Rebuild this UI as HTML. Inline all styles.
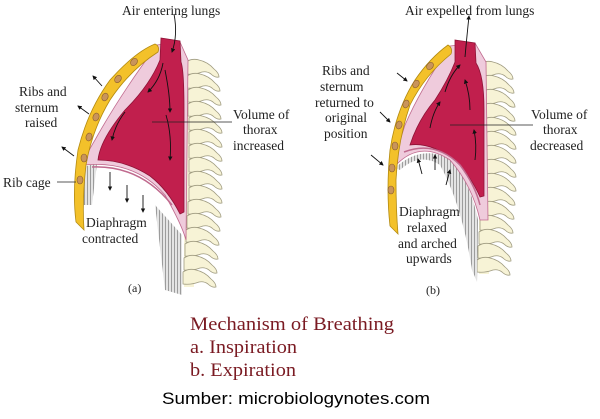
<!DOCTYPE html>
<html><head><meta charset="utf-8"><style>
body{margin:0;background:#fff;width:600px;height:414px;overflow:hidden}
svg text{font-family:"Liberation Serif",serif;fill:#222}
</style></head><body>
<svg width="600" height="414" viewBox="0 0 600 414" xmlns="http://www.w3.org/2000/svg">
<defs>
<marker id="ah" viewBox="0 0 10 10" refX="8" refY="5" markerWidth="5" markerHeight="5" orient="auto"><path d="M0 0L10 5L0 10z" fill="#111"/></marker>
<pattern id="gr" width="3" height="3" patternUnits="userSpaceOnUse"><rect width="3" height="3" fill="#e4e4e4"/><rect width="0.8" height="3" fill="#8a8a8a"/></pattern>
<path id="vt" d="M0 2 Q6 -2 13 0 Q22 2 28 9 Q33 13 33 17 Q29 18 25 14 Q21 11 16 12 Q8 15 0 14 Z" fill="#f7f3d6" stroke="#9f9b80" stroke-width="0.8"/>
</defs>

<!-- ===== (a) ===== -->
<rect x="184" y="62" width="10" height="225" fill="#f7f3d6"/>
<use href="#vt" x="186" y="60"/>
<use href="#vt" x="187" y="74"/>
<use href="#vt" x="188" y="88"/>
<use href="#vt" x="188" y="102"/>
<use href="#vt" x="189" y="116"/>
<use href="#vt" x="189" y="130"/>
<use href="#vt" x="189" y="144"/>
<use href="#vt" x="189" y="158"/>
<use href="#vt" x="189" y="172"/>
<use href="#vt" x="189" y="186"/>
<use href="#vt" x="188" y="200"/>
<use href="#vt" x="187" y="214"/>
<use href="#vt" x="186" y="228"/>
<use href="#vt" x="185" y="242"/>
<use href="#vt" x="184" y="256"/>
<use href="#vt" x="183" y="270"/>
<path d="M80 168 L97 163 L92 205 L80 205 Z" fill="url(#gr)"/>
<path d="M155 205 L182 235 L182 295 L165 290 Z" fill="url(#gr)"/>
<path d="M157 45 Q120 95 95 140 Q84 158 84 165 Q135 160 165 195 Q182 225 186 240 L188 60 L180 42 Z" fill="#efcbdc" stroke="#c06a8e" stroke-width="0.8"/>
<path d="M161 38 L180 41 L181 62 Q184 70 184 110 L184 212 L180 214 Q168 190 150 176 Q125 160 98 160 Q100 140 125 110 Q150 85 160 60 Z" fill="#c11f4d" stroke="#8e1236" stroke-width="0.8"/>
<path d="M92 167 Q140 165 172 205" fill="none" stroke="#c06a8e" stroke-width="1.5"/>
<path d="M155 44 Q160 46 158 52 Q130 70 110 100 Q92 130 86 165 Q82 200 84 230 L76 222 Q72 190 78 150 Q88 110 110 80 Q135 52 155 44 Z" fill="#f3c12a" stroke="#b38a10" stroke-width="0.8"/>
<g fill="#c9945a" stroke="#8a5d2a" stroke-width="0.6">
<ellipse cx="134" cy="62" rx="3" ry="4" transform="rotate(40 134 62)"/>
<ellipse cx="118" cy="79" rx="3" ry="4" transform="rotate(35 118 79)"/>
<ellipse cx="105" cy="97" rx="3" ry="4" transform="rotate(25 105 97)"/>
<ellipse cx="96" cy="117" rx="3" ry="4" transform="rotate(20 96 117)"/>
<ellipse cx="89" cy="137" rx="3" ry="4" transform="rotate(15 89 137)"/>
<ellipse cx="84" cy="158" rx="3" ry="4"/>
<ellipse cx="80" cy="180" rx="3" ry="4"/>
</g>
<g stroke="#111" stroke-width="0.9" fill="none" marker-end="url(#ah)">
<path d="M174 14 Q178 35 172 52"/>
<path d="M163 63 Q160 80 148 92"/>
<path d="M165 70 Q170 95 170 112"/>
<path d="M125 112 Q115 125 112 140"/>
<path d="M166 115 Q172 135 170 160"/>
<path d="M102 86 L93 76"/>
<path d="M89 114 L78 106"/>
<path d="M74 156 L62 147"/>
<path d="M110 172 L110 190"/>
<path d="M127 185 L127 202"/>
<path d="M143 195 L143 212"/>
</g>
<path d="M152 122 L232 122" stroke="#222" stroke-width="0.8"/>
<path d="M57 182 L76 182" stroke="#222" stroke-width="0.8"/>
<text x="122" y="15" font-size="13.5">Air entering lungs</text>
<text x="19" y="96" font-size="13.5">Ribs and</text>
<text x="15" y="112" font-size="13.5">sternum</text>
<text x="25" y="127" font-size="13.5">raised</text>
<text x="233" y="119" font-size="13.5">Volume of</text>
<text x="243" y="134" font-size="13.5">thorax</text>
<text x="233" y="150" font-size="13.5">increased</text>
<text x="3" y="187" font-size="13.5">Rib cage</text>
<text x="86" y="227" font-size="13.5">Diaphragm</text>
<text x="82" y="243" font-size="13.5">contracted</text>
<text x="128" y="292" font-size="12">(a)</text>

<!-- ===== (b) ===== -->
<rect x="479" y="64" width="10" height="210" fill="#f7f3d6"/>
<use href="#vt" x="480" y="62"/>
<use href="#vt" x="481" y="76"/>
<use href="#vt" x="482" y="90"/>
<use href="#vt" x="482" y="104"/>
<use href="#vt" x="483" y="118"/>
<use href="#vt" x="483" y="132"/>
<use href="#vt" x="483" y="146"/>
<use href="#vt" x="483" y="160"/>
<use href="#vt" x="483" y="174"/>
<use href="#vt" x="482" y="188"/>
<use href="#vt" x="481" y="202"/>
<use href="#vt" x="480" y="216"/>
<use href="#vt" x="479" y="230"/>
<use href="#vt" x="478" y="244"/>
<use href="#vt" x="477" y="258"/>
<path d="M395 168 Q420 145 448 158 Q470 180 478 220 L477 282 L472 270 Q462 205 440 165 Q420 152 400 170 Z" fill="url(#gr)"/>
<path d="M450 46 Q420 90 405 125 Q398 145 396 165 Q420 140 450 160 Q472 185 480 220 L488 220 L486 62 L475 43 Z" fill="#efcbdc" stroke="#c06a8e" stroke-width="0.8"/>
<path d="M455 40 L475 43 L476 63 Q484 75 484 110 L484 196 L480 197 Q470 175 455 160 Q430 142 410 145 Q418 120 435 100 Q448 80 455 62 Z" fill="#c11f4d" stroke="#8e1236" stroke-width="0.8"/>
<path d="M404 152 Q435 140 460 165 Q475 185 480 205" fill="none" stroke="#c06a8e" stroke-width="1.5"/>
<path d="M448 45 Q453 48 451 54 Q425 75 410 105 Q398 140 396 180 Q396 210 398 234 L390 226 Q386 190 390 150 Q396 110 415 80 Q430 58 448 45 Z" fill="#f3c12a" stroke="#b38a10" stroke-width="0.8"/>
<g fill="#c9945a" stroke="#8a5d2a" stroke-width="0.6">
<ellipse cx="430" cy="66" rx="3" ry="4" transform="rotate(40 430 66)"/>
<ellipse cx="416" cy="84" rx="3" ry="4" transform="rotate(30 416 84)"/>
<ellipse cx="406" cy="104" rx="3" ry="4" transform="rotate(22 406 104)"/>
<ellipse cx="399" cy="125" rx="3" ry="4" transform="rotate(15 399 125)"/>
<ellipse cx="395" cy="146" rx="3" ry="4"/>
<ellipse cx="392" cy="168" rx="3" ry="4"/>
<ellipse cx="391" cy="190" rx="3" ry="4"/>
</g>
<g stroke="#111" stroke-width="0.9" fill="none" marker-end="url(#ah)">
<path d="M465 57 Q467 35 469 16"/>
<path d="M445 92 Q450 75 460 65"/>
<path d="M470 110 Q470 95 465 80"/>
<path d="M430 128 Q433 112 440 102"/>
<path d="M475 160 Q477 145 474 130"/>
<path d="M397 73 L407 81"/>
<path d="M380 112 L390 122"/>
<path d="M371 155 L383 165"/>
<path d="M422 174 L418 159"/>
<path d="M435 170 L435 155"/>
<path d="M446 185 L450 170"/>
</g>
<path d="M450 125 L533 125" stroke="#222" stroke-width="0.8"/>
<text x="405" y="15" font-size="13.5">Air expelled from lungs</text>
<text x="322" y="75" font-size="13.5">Ribs and</text>
<text x="320" y="91" font-size="13.5">sternum</text>
<text x="315" y="107" font-size="13.5">returned to</text>
<text x="325" y="122" font-size="13.5">original</text>
<text x="324" y="138" font-size="13.5">position</text>
<text x="531" y="119" font-size="13.5">Volume of</text>
<text x="543" y="134" font-size="13.5">thorax</text>
<text x="530" y="150" font-size="13.5">decreased</text>
<text x="399" y="216" font-size="13.5">Diaphragm</text>
<text x="407" y="232" font-size="13.5">relaxed</text>
<text x="398" y="248" font-size="13.5">and arched</text>
<text x="406" y="263" font-size="13.5">upwards</text>
<text x="426" y="294" font-size="12">(b)</text>

<text x="190" y="330" font-size="19" style="fill:#7a1a22" textLength="204" lengthAdjust="spacingAndGlyphs">Mechanism of Breathing</text>
<text x="190" y="353" font-size="19" style="fill:#7a1a22" textLength="107" lengthAdjust="spacingAndGlyphs">a. Inspiration</text>
<text x="190" y="376" font-size="19" style="fill:#7a1a22" textLength="106" lengthAdjust="spacingAndGlyphs">b. Expiration</text>
<text x="162" y="404" font-size="17" style="font-family:'Liberation Sans',sans-serif;fill:#000" textLength="268" lengthAdjust="spacingAndGlyphs">Sumber: microbiologynotes.com</text>
</svg>
</body></html>
